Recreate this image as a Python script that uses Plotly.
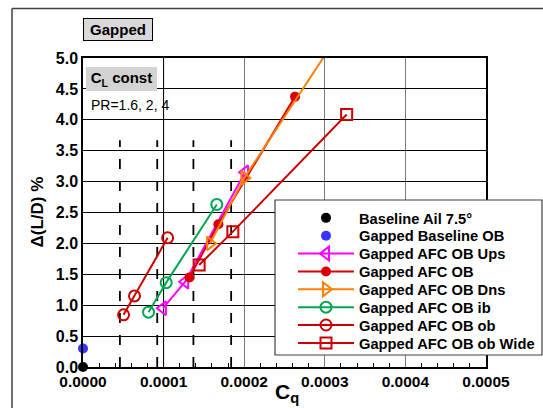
import plotly.graph_objects as go

FONT = "Liberation Sans, Arial, Helvetica, sans-serif"

# ---------------- data ----------------
baseline_ail_x = [0.0]
baseline_ail_y = [0.0]
gapped_baseline_x = [0.0]
gapped_baseline_y = [0.30]
ups_x = [0.0000991, 0.0001268, 0.0002011]
ups_y = [0.95, 1.38, 3.15]
afc_ob_x = [0.0001321, 0.0001680, 0.0002631]
afc_ob_y = [1.45, 2.31, 4.375]
dns_x = [0.0001577, 0.0002002, 0.000310]
dns_y = [2.00, 3.06, 5.24]
ib_x = [0.0000813, 0.0001032, 0.0001660]
ib_y = [0.887, 1.365, 2.63]
ob_x = [0.0000503, 0.0000639, 0.0001050]
ob_y = [0.844, 1.15, 2.09]
wide_x = [0.0001441, 0.0001859, 0.0003271]
wide_y = [1.65, 2.19, 4.085]

dash_x = [0.0000458, 0.0000921, 0.000137, 0.0001838]
dash_top = 3.67
black_grid_x = [0.0001]

x_range = [0, 0.0005]
y_range = [0, 5]

series = [
    ("Baseline Ail 7.5°", baseline_ail_x, baseline_ail_y, "black", "circle", "markers", 10),
    ("Gapped Baseline OB", gapped_baseline_x, gapped_baseline_y, "#3535ff", "circle", "markers", 10),
    ("Gapped AFC OB Ups", ups_x, ups_y, "#ff00ff", "triangle-left-open", "lines+markers", 12),
    ("Gapped AFC OB", afc_ob_x, afc_ob_y, "#d80000", "circle", "lines+markers", 10),
    ("Gapped AFC OB Dns", dns_x, dns_y, "#ff8000", "triangle-right-open", "lines+markers", 12),
    ("Gapped AFC OB ib", ib_x, ib_y, "#00a651", "circle-open", "lines+markers", 11),
    ("Gapped AFC OB ob", ob_x, ob_y, "#cc0000", "circle-open", "lines+markers", 11),
    ("Gapped AFC OB ob Wide", wide_x, wide_y, "#cc0000", "square-open", "lines+markers", 11),
]

W, H = 543, 408
ML, MR, MT, MB = 83, 57, 58, 41
PW, PH = W - ML - MR, H - MT - MB


def px2paper_x(px):
    return (px - ML) / PW


def px2paper_y(py):
    return (H - MB - py) / PH


fig = go.Figure()
layout_legends = {}
legend_row0 = 218.3
legend_step = 17.86
for i, (name, xs, ys, color, symbol, mode, size) in enumerate(series):
    lname = "legend" if i == 0 else f"legend{i + 1}"
    fig.add_trace(go.Scatter(
        x=xs, y=ys, name=name, mode=mode,
        line=dict(color=color, width=2),
        marker=dict(color=color, symbol=symbol, size=size,
                    line=dict(color=color, width=2 if "open" in symbol else 0)),
        cliponaxis=(mode != "markers"),
        legend=lname,
    ))
    layout_legends[lname] = dict(
        x=px2paper_x(293), xanchor="left",
        y=px2paper_y(legend_row0 + i * legend_step), yanchor="middle",
        bgcolor="rgba(0,0,0,0)", borderwidth=0,
        itemwidth=56,
        font=dict(family=FONT, size=14.7, color="black", weight="bold"),
    )

shapes = []
# outer frame (top and left visible)
shapes.append(dict(type="line", xref="paper", yref="paper",
                   x0=px2paper_x(12), x1=px2paper_x(560),
                   y0=px2paper_y(8.5), y1=px2paper_y(8.5),
                   line=dict(color="#404040", width=1.5)))
shapes.append(dict(type="line", xref="paper", yref="paper",
                   x0=px2paper_x(12), x1=px2paper_x(12),
                   y0=px2paper_y(8.5), y1=px2paper_y(420),
                   line=dict(color="#404040", width=1.5)))
for xv in black_grid_x:
    shapes.append(dict(type="line", xref="x", yref="y", x0=xv, x1=xv,
                       y0=y_range[0], y1=y_range[1], layer="between",
                       line=dict(color="black", width=1)))
for xv in dash_x:
    shapes.append(dict(type="line", xref="x", yref="y", x0=xv, x1=xv,
                       y0=0, y1=dash_top, layer="between",
                       line=dict(color="black", width=1.8, dash="10px,12px")))
# legend box
shapes.append(dict(type="rect", xref="paper", yref="paper",
                   x0=px2paper_x(275), x1=px2paper_x(542),
                   y0=px2paper_y(355), y1=px2paper_y(200),
                   fillcolor="white", layer="above",
                   line=dict(color="#404040", width=1.2)))

annotations = [
    dict(text="Gapped", xref="paper", yref="paper",
         x=px2paper_x(ML), xanchor="left", y=px2paper_y(17.7), yanchor="top",
         showarrow=False, bgcolor="#d9d9d9", bordercolor="black", borderwidth=1,
         borderpad=2, width=64, height=17,
         font=dict(family=FONT, size=15, color="black", weight="bold")),
    dict(text="C<sub>L</sub> const", xref="paper", yref="paper",
         x=px2paper_x(86), xanchor="left", y=px2paper_y(66.7), yanchor="top",
         showarrow=False, bgcolor="#d3d3d3", bordercolor="#d3d3d3", borderwidth=0,
         borderpad=2, width=67, height=20,
         font=dict(family=FONT, size=15, color="black", weight="bold")),
    dict(text="PR=1.6, 2, 4", xref="paper", yref="paper",
         x=px2paper_x(88.5), xanchor="left", y=px2paper_y(105), yanchor="middle",
         showarrow=False, font=dict(family=FONT, size=14, color="black")),
    dict(text="Δ(L/D) %", xref="paper", yref="paper",
         x=px2paper_x(37), xanchor="center", y=0.5, yanchor="middle",
         textangle=-90, showarrow=False,
         font=dict(family=FONT, size=17, color="black", weight="bold")),
    dict(text="C<sub>q</sub>", xref="paper", yref="paper",
         x=px2paper_x(287), xanchor="center", y=px2paper_y(378), yanchor="top",
         showarrow=False,
         font=dict(family=FONT, size=21, color="black", weight="bold")),
]

fig.update_layout(
    width=W, height=H,
    margin=dict(l=ML, r=MR, t=MT, b=MB, pad=0, autoexpand=False),
    paper_bgcolor="white", plot_bgcolor="white",
    font=dict(family=FONT, color="black"),
    showlegend=True,
    shapes=shapes,
    annotations=annotations,
    **layout_legends,
)
fig.update_xaxes(
    range=x_range, dtick=0.0001, tick0=0, tickformat=".4f",
    showgrid=True, gridcolor="#7a7a7a", gridwidth=1,
    showline=True, linecolor="black", linewidth=1.5, mirror=True,
    ticks="", zeroline=False, automargin=False,
    minor=dict(dtick=0.00002, ticks="inside", ticklen=4, tickcolor="black",
               tickwidth=1, showgrid=False),
    tickfont=dict(family=FONT, size=15.5, color="black", weight="bold"),
)
fig.update_yaxes(
    range=y_range, dtick=0.5, tick0=0, tickformat=".1f",
    showgrid=True, gridcolor="black", gridwidth=1,
    showline=True, linecolor="black", linewidth=1.5, mirror=True,
    ticks="", zeroline=False, automargin=False,
    tickfont=dict(family=FONT, size=16, color="black", weight="bold"),
)

fig.write_html("out.html")
